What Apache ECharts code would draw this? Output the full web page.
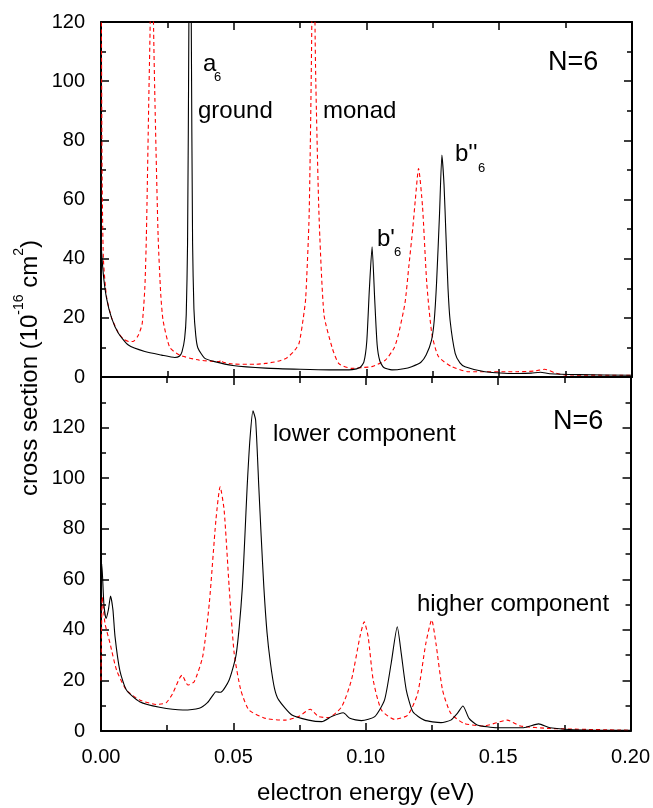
<!DOCTYPE html>
<html>
<head>
<meta charset="utf-8">
<script src="https://cdn.jsdelivr.net/npm/echarts@6/dist/echarts.min.js"></script>
<style>
  html, body { margin: 0; padding: 0; background: #fff; }
  #chart { width: 653px; height: 808px; }
</style>
</head>
<body>
<div id="chart"></div>
<script>
// x ticks / y ticks
const xTicks = [0, 0.05, 0.10, 0.15, 0.20];
const topYTicks = [0, 20, 40, 60, 80, 100, 120];
const bottomYTicks = [0, 20, 40, 60, 80, 100, 120];

// upper panel: ground state (solid) and monad (dashed), [energy eV, cross section]
const topSolid = [
  [0, 45], [0.0009, 34.5], [0.0021, 26.6], [0.004, 19.9], [0.0065, 14.9], [0.0103, 10.8],
  [0.0165, 8.6], [0.0228, 7.4], [0.0278, 6.6], [0.0295, 7.0], [0.0305, 8.5], [0.0315, 13],
  [0.0321, 21], [0.0326, 45], [0.0331, 120], [0.0335, 260], [0.034, 120], [0.0345, 45],
  [0.035, 23], [0.0357, 14], [0.0365, 9.8], [0.039, 6.4], [0.0428, 5.2], [0.0496, 3.9],
  [0.062, 3.0], [0.075, 2.6], [0.086, 2.4], [0.0946, 2.5], [0.0975, 3.2], [0.099, 5],
  [0.1001, 12], [0.1011, 30], [0.1021, 44], [0.1031, 26], [0.104, 11], [0.105, 5.5],
  [0.1065, 3.2], [0.1096, 2.4], [0.114, 2.8], [0.117, 3.5], [0.1205, 5], [0.1225, 7.5],
  [0.1245, 12.5], [0.1255, 19], [0.1264, 32], [0.1275, 55], [0.1284, 75], [0.1292, 65],
  [0.1299, 48.6], [0.1307, 30], [0.1315, 19], [0.1334, 8], [0.1352, 4.8], [0.1371, 3.5],
  [0.1446, 1.8], [0.157, 1.2], [0.162, 1.3], [0.1655, 1.6], [0.169, 1.1], [0.18, 0.8], [0.2, 0.6]
];
const topDashed = [
  [0, 160], [0.0004, 70], [0.0009, 40], [0.0021, 27], [0.004, 20], [0.0065, 15],
  [0.0085, 12.8], [0.0105, 12], [0.012, 12], [0.014, 14], [0.0155, 18], [0.0165, 30],
  [0.0171, 48], [0.018, 94], [0.0186, 125], [0.0191, 250], [0.0197, 125], [0.0203, 94],
  [0.0215, 48], [0.0225, 28], [0.0234, 19], [0.0259, 10], [0.0296, 7.4], [0.037, 5.7],
  [0.0446, 5.2], [0.0452, 5.8], [0.046, 5.0], [0.0496, 4.4], [0.058, 4.3], [0.062, 4.6],
  [0.0665, 5.3], [0.0697, 6.3], [0.0725, 8.5], [0.0746, 11.4], [0.0762, 20], [0.0771, 26.6],
  [0.0784, 55], [0.0794, 120], [0.08, 250], [0.0806, 120], [0.0809, 100], [0.0821, 55],
  [0.084, 21], [0.0871, 9.8], [0.0896, 4.5], [0.0946, 2.9], [0.0985, 3.2], [0.102, 3.5],
  [0.1071, 5.7], [0.1105, 10], [0.1121, 14.7], [0.1145, 25], [0.1159, 37], [0.1174, 50],
  [0.1184, 60], [0.1196, 70.5], [0.1211, 57.6], [0.1227, 31.7], [0.1246, 14.7],
  [0.1271, 6.9], [0.1321, 3.5], [0.1384, 1.8], [0.157, 1.8], [0.163, 2.0], [0.1671, 2.6],
  [0.171, 1.4], [0.1746, 0.7], [0.2, 0.6]
];

// lower panel: lower component (solid) and higher component (dashed)
const bottomSolid = [
  [0, 60], [0.0003, 66], [0.0011, 50], [0.0019, 44.5], [0.0028, 48], [0.0036, 53.4],
  [0.0045, 48], [0.0053, 37.3], [0.0071, 24], [0.0096, 16.2], [0.0146, 11.6], [0.0221, 9.4],
  [0.0309, 8.3], [0.0371, 9], [0.0402, 11.2], [0.0425, 14.5], [0.0434, 15.5], [0.0452, 15.3],
  [0.0484, 20.2], [0.0509, 29.4], [0.0522, 41], [0.0534, 57], [0.0543, 76], [0.0552, 96.6],
  [0.0563, 116], [0.0574, 126.6], [0.0584, 123], [0.0596, 96.6], [0.0605, 77], [0.0615, 57],
  [0.0627, 39], [0.064, 26.8], [0.0655, 17], [0.0671, 12.3], [0.0721, 6.3],
  [0.0784, 4.3], [0.0834, 3.7], [0.0871, 5.7], [0.0915, 7.2], [0.094, 5], [0.0984, 4.1],
  [0.1034, 5.7], [0.1071, 12.3], [0.1096, 26.8], [0.1119, 41.2], [0.1134, 30.7],
  [0.1153, 16.2], [0.1178, 7.6], [0.1221, 4.3], [0.1284, 3.3], [0.1321, 4.3], [0.1346, 7],
  [0.1367, 9.9], [0.139, 5], [0.1421, 2.4], [0.1496, 1.3], [0.1596, 1.3], [0.1653, 2.8],
  [0.1696, 1.3], [0.1821, 0.4], [0.2, 0.3]
];
const bottomDashed = [
  [0, 20], [0.0005, 53], [0.0015, 42.6], [0.0034, 34.7], [0.0059, 24], [0.0096, 16.2],
  [0.0146, 12.3], [0.0209, 10.5], [0.0246, 11.2], [0.0271, 14.9], [0.0296, 20.8],
  [0.0306, 22.1], [0.0328, 18.2], [0.0352, 19.5], [0.0384, 29.4], [0.0409, 50.5],
  [0.0434, 83.4], [0.045, 96.6], [0.0465, 87.4], [0.0484, 57], [0.0503, 30.7],
  [0.0528, 16.2], [0.0559, 8.3], [0.0621, 5], [0.0696, 4.3], [0.0746, 5.7], [0.079, 8.6],
  [0.0821, 5.7], [0.0859, 5.3], [0.0909, 9.6], [0.0946, 20.2], [0.0978, 37.3],
  [0.0994, 43.2], [0.1009, 37.3], [0.1028, 20.2], [0.1059, 8.3], [0.1109, 4.6],
  [0.1159, 6.3], [0.1196, 14.9], [0.1227, 34.7], [0.1249, 43.9], [0.1265, 34.7],
  [0.129, 16.2], [0.1321, 7], [0.1371, 3], [0.1446, 2], [0.1534, 4.3], [0.1584, 2],
  [0.1696, 1], [0.2, 0.3]
];

const FONT = 'Liberation Sans, Arial, sans-serif';

const chart = echarts.init(document.getElementById('chart'), null, { renderer: 'canvas' });

const xBase = (gridIndex, position, showLabel) => ({
  type: 'value',
  gridIndex: gridIndex,
  position: position,
  min: xTicks[0],
  max: xTicks[xTicks.length - 1],
  interval: 0.05,
  axisLine: { show: true, onZero: false, lineStyle: { color: '#000', width: 2 } },
  axisTick: { show: true, inside: true, length: 8, lineStyle: { color: '#000', width: 1.5 } },
  minorTick: { show: true, splitNumber: 2, length: 6, lineStyle: { color: '#000', width: 1.5 } },
  splitLine: { show: false },
  axisLabel: {
    show: showLabel, margin: 16, color: '#000', fontSize: 20, fontFamily: FONT,
    formatter: v => v.toFixed(2)
  }
});

const yBase = (gridIndex, position, max, showLabel) => ({
  type: 'value',
  gridIndex: gridIndex,
  position: position,
  min: 0,
  max: max,
  interval: 20,
  axisLine: { show: true, onZero: false, lineStyle: { color: '#000', width: 2 } },
  axisTick: { show: true, inside: true, length: 8, lineStyle: { color: '#000', width: 1.5 } },
  minorTick: { show: true, splitNumber: 2, length: 5, lineStyle: { color: '#000', width: 1.5 } },
  splitLine: { show: false },
  axisLabel: {
    show: showLabel, margin: 16, color: '#000', fontSize: 20, fontFamily: FONT,
    formatter: v => (v > 120 ? '' : String(v))
  }
});

const solidLine = { color: '#000', width: 1.1, type: 'solid' };
const dashLine = { color: '#ff0000', width: 1.1, type: [4, 3] };

const lineSeries = (xi, yi, data, style, z) => ({
  type: 'line', xAxisIndex: xi, yAxisIndex: yi, data: data,
  showSymbol: false, lineStyle: style, clip: true, z: z,
  smooth: 0.2
});

const txt = (x, y, text, size) => ({
  type: 'text', x: x, y: y, silent: true,
  style: { text: text, fill: '#000', font: size + 'px ' + FONT, verticalAlign: 'middle', align: 'left' }
});

const option = {
  animation: false,
  backgroundColor: '#fff',
  grid: [
    { left: 101, top: 22, width: 531, height: 355 },
    { left: 101, top: 377, width: 531, height: 354 }
  ],
  xAxis: [
    xBase(0, 'bottom', false),
    xBase(0, 'top', false),
    Object.assign(xBase(1, 'bottom', true), {
      name: 'electron energy (eV)', nameLocation: 'middle', nameGap: 50,
      nameTextStyle: { color: '#000', fontSize: 24, fontFamily: FONT }
    }),
    xBase(1, 'top', false)
  ],
  yAxis: [
    yBase(0, 'left', 120, true),
    yBase(0, 'right', 120, false),
    yBase(1, 'left', 140, true),
    yBase(1, 'right', 140, false)
  ],
  series: [
    lineSeries(0, 0, topSolid, solidLine, 3),
    lineSeries(0, 0, topDashed, dashLine, 2),
    lineSeries(2, 2, bottomSolid, solidLine, 3),
    lineSeries(2, 2, bottomDashed, dashLine, 2)
  ],
  graphic: [
    {
      type: 'text', x: 27, y: 368, rotation: Math.PI / 2, silent: true,
      style: {
        text: '{n|cross section (10}{s|-16}{n| cm}{s|2}{n|)}',
        align: 'center', verticalAlign: 'middle',
        rich: {
          n: { fontSize: 24, fontFamily: FONT, fill: '#000', lineHeight: 30, verticalAlign: 'bottom' },
          s: { fontSize: 14, fontFamily: FONT, fill: '#000', lineHeight: 30, verticalAlign: 'top' }
        }
      }
    },
    txt(203, 64, 'a', 24),
    txt(214, 77, '6', 13),
    txt(198, 111, 'ground', 24),
    txt(323, 111, 'monad', 24),
    txt(377, 239, "b'", 24),
    txt(394, 252, '6', 13),
    txt(455, 154, "b''", 24),
    txt(478, 168, '6', 13),
    txt(548, 63, 'N=6', 27),
    txt(553, 422, 'N=6', 27),
    txt(273, 434, 'lower component', 24),
    txt(417, 604, 'higher component', 24)
  ]
};

chart.setOption(option);
</script>
</body>
</html>
